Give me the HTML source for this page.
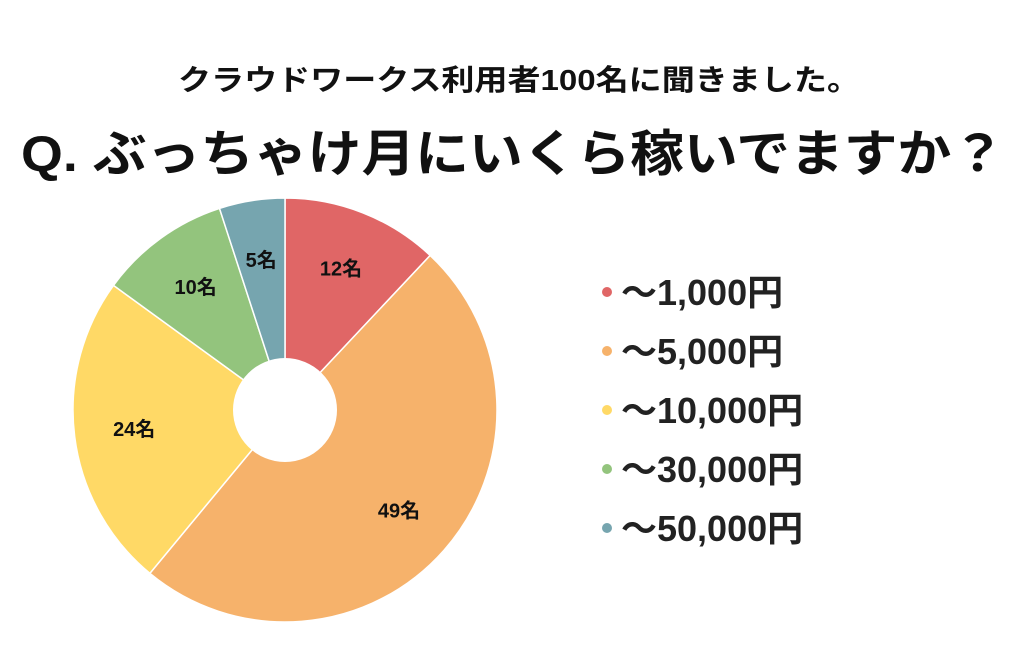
<!DOCTYPE html>
<html><head><meta charset="utf-8"><style>
body{margin:0;background:#fff;}
svg{display:block;font-family:"Liberation Sans","Noto Sans CJK JP",sans-serif;font-weight:bold;}
</style></head><body>
<svg width="1024" height="647" viewBox="0 0 1024 647">
<rect width="1024" height="647" fill="#fff"/>
<text x="519" y="90" font-size="29" text-anchor="middle" textLength="682" lengthAdjust="spacingAndGlyphs" fill="#111">クラウドワークス利用者100名に聞きました。</text>
<text x="513" y="171" font-size="50" text-anchor="middle" textLength="984" lengthAdjust="spacingAndGlyphs" fill="#111">Q. ぶっちゃけ月にいくら稼いでますか？</text>
<g id="pie"></g>
<g id="legend"></g>
</svg>
<script>
const categories=["～1,000円","～5,000円","～10,000円","～30,000円","～50,000円"];
const values=[12,49,24,10,5];
const colors=["#e06666","#f6b26b","#ffd966","#93c47d","#76a5af"];
const NS="http://www.w3.org/2000/svg";
const cx=285,cy=410,R=212,r0=52,rl=152;
const pie=document.getElementById('pie');
const total=values.reduce((a,b)=>a+b,0);
let acc=0;
function pt(a,rad){return [cx+rad*Math.sin(a),cy-rad*Math.cos(a)];}
values.forEach((v,i)=>{
  const a0=acc/total*2*Math.PI; acc+=v; const a1=acc/total*2*Math.PI;
  const [x0,y0]=pt(a0,R),[x1,y1]=pt(a1,R);
  const p=document.createElementNS(NS,'path');
  p.setAttribute('d',`M${cx},${cy}L${x0},${y0}A${R},${R} 0 ${a1-a0>Math.PI?1:0} 1 ${x1},${y1}Z`);
  p.setAttribute('fill',colors[i]);p.setAttribute('stroke','#fff');p.setAttribute('stroke-width','1.5');
  
  
  pie.appendChild(p);
  const [lx,ly]=pt((a0+a1)/2,rl);
  const t=document.createElementNS(NS,'text');
  t.setAttribute('x',lx);t.setAttribute('y',ly+7);t.setAttribute('text-anchor','middle');
  t.setAttribute('font-size','20');t.setAttribute('fill','#111');
  t.textContent=v+'名';
  
  
  pie.appendChild(t);
});
const hole=document.createElementNS(NS,'circle');
hole.setAttribute('cx',cx);hole.setAttribute('cy',cy);hole.setAttribute('r',r0);hole.setAttribute('fill','#fff');


pie.appendChild(hole);
const lg=document.getElementById('legend');
categories.forEach((c,i)=>{
  const y=292+i*59;
  const d=document.createElementNS(NS,'circle');
  d.setAttribute('cx',607);d.setAttribute('cy',y);d.setAttribute('r',5);d.setAttribute('fill',colors[i]);
  
  
  lg.appendChild(d);
  const t=document.createElementNS(NS,'text');
  t.setAttribute('x',621);t.setAttribute('y',y+13);t.setAttribute('font-size','36');t.setAttribute('fill','#222');
  t.textContent=c;
  
  
  lg.appendChild(t);
});
</script>
</body></html>
